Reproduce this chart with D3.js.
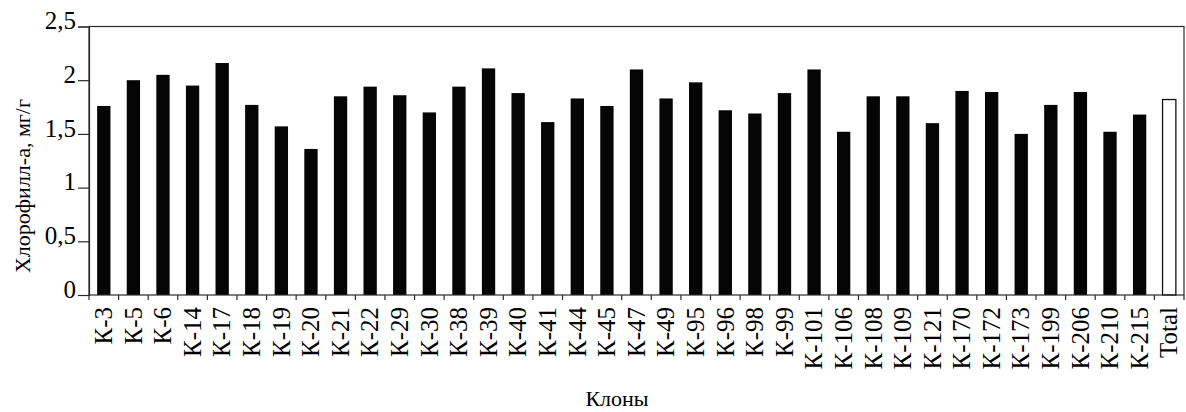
<!DOCTYPE html>
<html>
<head>
<meta charset="utf-8">
<script src="https://cdn.jsdelivr.net/npm/d3@7"></script>
<style>
  html, body { margin: 0; padding: 0; background: #fff; }
  svg { display: block; }
  text { font-family: "Liberation Serif", "Times New Roman", serif; fill: #000; }
</style>
</head>
<body>
<svg id="chart" width="1186" height="412"></svg>
<script>
const categories = ["К-3","К-5","К-6","К-14","К-17","К-18","К-19","К-20","К-21","К-22","К-29","К-30","К-38","К-39","К-40","К-41","К-44","К-45","К-47","К-49","К-95","К-96","К-98","К-99","К-101","К-106","К-108","К-109","К-121","К-170","К-172","К-173","К-199","К-206","К-210","К-215","Total"];
const values = [1.76,2.00,2.05,1.95,2.16,1.77,1.57,1.36,1.85,1.94,1.86,1.70,1.94,2.11,1.88,1.61,1.83,1.76,2.10,1.83,1.98,1.72,1.69,1.88,2.10,1.52,1.85,1.85,1.60,1.90,1.89,1.50,1.77,1.89,1.52,1.68,1.82];
const yTicks = [0, 0.5, 1, 1.5, 2, 2.5];
const yTitle = "Хлорофилл-а, мг/г";
const xTitle = "Клоны";

const mL = 89, mR = 1184, mT = 26.5, mB = 295;
const svg = d3.select("#chart");
const data = categories.map((c, i) => ({ c, v: values[i] }));

const x = d3.scaleBand().domain(categories).range([mL, mR]).paddingInner(0.55).paddingOuter(0.275);
const y = d3.scaleLinear().domain([0, 2.5]).range([mB, mT]);
const fmt = d3.formatLocale({ decimal: ",", thousands: " ", grouping: [3], currency: ["", ""] }).format(".1~f");

// bars
svg.append("g").selectAll("rect").data(data).join("rect")
  .attr("x", d => x(d.c))
  .attr("y", d => y(d.v))
  .attr("width", x.bandwidth())
  .attr("height", d => y(0) - y(d.v))
  .attr("fill", d => d.c === "Total" ? "#fff" : "#050505")
  .attr("stroke", d => d.c === "Total" ? "#111" : "none")
  .attr("stroke-width", 1.3);

// frame
svg.append("rect").attr("x", mL).attr("y", mT).attr("width", mR - mL).attr("height", mB - mT)
  .attr("fill", "none").attr("stroke", "#2a2a2a").attr("stroke-width", 1.2);

// y axis
const yAxis = d3.axisLeft(y).tickValues(yTicks).tickSize(11).tickPadding(2).tickFormat(fmt);
const gy = svg.append("g").attr("transform", `translate(${mL},0)`).call(yAxis);
gy.select(".domain").attr("stroke", "#2a2a2a").attr("stroke-width", 1.2);
gy.selectAll(".tick line").attr("stroke", "#2a2a2a").attr("stroke-width", 1.2);
gy.selectAll(".tick text").style("font-size", "25px").attr("dy", "0.09em");

// x axis ticks at band boundaries
const step = x.step();
const bounds = categories.map(c => x(c) - step * x.paddingInner() / 2).concat([mR]);
svg.append("g").selectAll("line").data(bounds).join("line")
  .attr("x1", d => d).attr("x2", d => d)
  .attr("y1", mB).attr("y2", mB + 5)
  .attr("stroke", "#2a2a2a").attr("stroke-width", 1.2);

// x labels
svg.append("g").selectAll("text").data(categories).join("text")
  .attr("transform", d => `translate(${x(d) + x.bandwidth() / 2},307) rotate(-90)`)
  .attr("text-anchor", "end")
  .attr("dy", "0.33em")
  .style("font-size", "25px")
  .text(d => d);

// titles
svg.append("text")
  .attr("transform", "translate(30,186) rotate(-90)")
  .attr("text-anchor", "middle")
  .style("font-size", "22px")
  .text(yTitle);

svg.append("text")
  .attr("x", 617).attr("y", 406)
  .attr("text-anchor", "middle")
  .style("font-size", "22px")
  .text(xTitle);
</script>
</body>
</html>
